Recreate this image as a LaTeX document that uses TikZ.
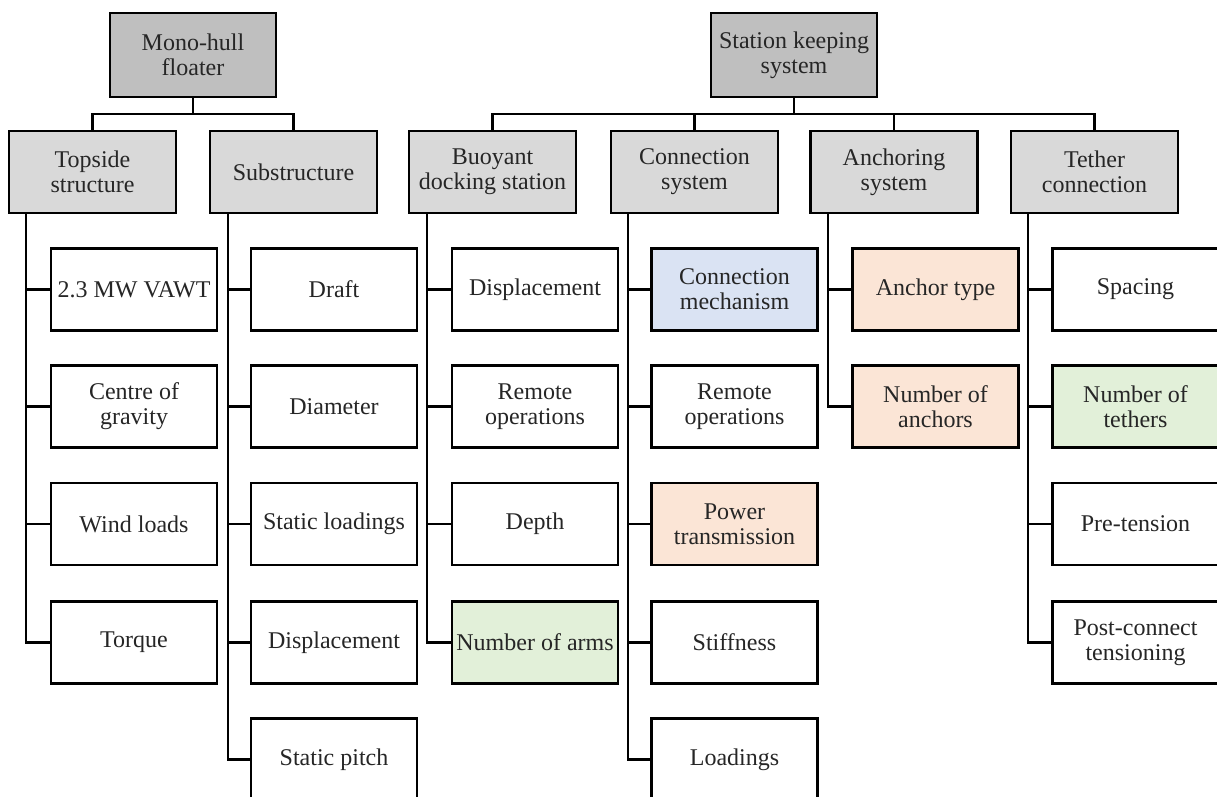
\documentclass[tikz,border=0pt]{standalone}
\usepackage{fontspec}
\setmainfont{Liberation Serif}
\definecolor{topgray}{HTML}{BFBFBF}
\definecolor{midgray}{HTML}{D9D9D9}
\definecolor{lblue}{HTML}{DAE3F3}
\definecolor{lorange}{HTML}{FBE5D6}
\definecolor{lgreen}{HTML}{E2F0D9}
\tikzset{
  box/.style={draw=black, line width=1.6pt, rectangle, align=center, inner sep=1pt,
    font=\fontsize{18}{18.75}\selectfont, text=black!85},
  topbox/.style={box, fill=topgray, minimum width=124.5pt, minimum height=63pt},
  midbox/.style={box, fill=midgray, minimum width=125.25pt, minimum height=61.5pt},
  leafbox/.style={box, fill=white, minimum width=124.5pt, minimum height=61.5pt},
  bluebox/.style={leafbox, fill=lblue},
  orangebox/.style={leafbox, fill=lorange},
  greenbox/.style={leafbox, fill=lgreen},
  conn/.style={draw=black, line width=1.6pt}
}
\begin{document}
\begin{tikzpicture}[x=0.75pt, y=-0.75pt]
\useasboundingbox (0,0) rectangle (1217,796);
\clip (0,0) rectangle (1217,796);
\fill[white] (0,0) rectangle (1217,796);
% top level
\node[topbox] (mono) at (193,55) {Mono-hull\\floater};
\node[topbox] (station) at (794,55) {Station keeping\\system};
% level 2
\node[midbox] (top) at (92.5,172) {Topside\\structure};
\node[midbox] (sub) at (293.5,172) {Substructure};
\node[midbox] (buoy) at (492.5,172) {Buoyant\\docking station};
\node[midbox] (con) at (694.5,172) {Connection\\system};
\node[midbox] (anc) at (894,172) {Anchoring\\system};
\node[midbox] (teth) at (1094.5,172) {Tether\\connection};
% bus coordinates
\coordinate (b1) at (193,114);
\coordinate (b2) at (794,114);
\draw[conn] (mono.south) -- (b1);
\draw[conn] (top.north) |- (b1) -| (sub.north);
\draw[conn] (station.south) -- (b2);
\draw[conn] (buoy.north) |- (b2) -| (teth.north);
\draw[conn] (con.north) -- (con.north |- b2);
\draw[conn] (anc.north) -- (anc.north |- b2);
% leaves: topside
\node[leafbox] (t1) at (134,289.5) {2.3 MW VAWT};
\node[leafbox] (t2) at (134,406.5) {Centre of\\gravity};
\node[leafbox] (t3) at (134,524) {Wind loads};
\node[leafbox] (t4) at (134,642.5) {Torque};
% substructure
\node[leafbox] (s1) at (334,289.5) {Draft};
\node[leafbox] (s2) at (334,406.5) {Diameter};
\node[leafbox] (s3) at (334,524) {Static loadings};
\node[leafbox] (s4) at (334,642.5) {Displacement};
\node[leafbox] (s5) at (334,759.5) {Static pitch};
% buoyant
\node[leafbox] (d1) at (535,289.5) {Displacement};
\node[leafbox] (d2) at (535,406.5) {Remote\\operations};
\node[leafbox] (d3) at (535,524) {Depth};
\node[greenbox] (d4) at (535,642.5) {Number of arms};
% connection
\node[bluebox] (c1) at (734.5,289.5) {Connection\\mechanism};
\node[leafbox] (c2) at (734.5,406.5) {Remote\\operations};
\node[orangebox] (c3) at (734.5,524) {Power\\transmission};
\node[leafbox] (c4) at (734.5,642.5) {Stiffness};
\node[leafbox] (c5) at (734.5,759.5) {Loadings};
% anchoring
\node[orangebox] (a1) at (935.5,289.5) {Anchor type};
\node[orangebox] (a2) at (935.5,406.5) {Number of\\anchors};
% tether
\node[leafbox] (e1) at (1135.5,289.5) {Spacing};
\node[greenbox] (e2) at (1135.5,406.5) {Number of\\tethers};
\node[leafbox] (e3) at (1135.5,524) {Pre-tension};
\node[leafbox] (e4) at (1135.5,642.5) {Post-connect\\tensioning};
% spines
\coordinate (xT) at (26,0);
\coordinate (xS) at (228,0);
\coordinate (xD) at (427,0);
\coordinate (xC) at (628,0);
\coordinate (xA) at (828,0);
\coordinate (xE) at (1028,0);
\draw[conn] (top.south -| xT) |- (t4.west);
\foreach \n in {t1,t2,t3} \draw[conn] (\n.west -| xT) -- (\n.west);
\draw[conn] (sub.south -| xS) |- (s5.west);
\foreach \n in {s1,s2,s3,s4} \draw[conn] (\n.west -| xS) -- (\n.west);
\draw[conn] (buoy.south -| xD) |- (d4.west);
\foreach \n in {d1,d2,d3} \draw[conn] (\n.west -| xD) -- (\n.west);
\draw[conn] (con.south -| xC) |- (c5.west);
\foreach \n in {c1,c2,c3,c4} \draw[conn] (\n.west -| xC) -- (\n.west);
\draw[conn] (anc.south -| xA) |- (a2.west);
\draw[conn] (a1.west -| xA) -- (a1.west);
\draw[conn] (teth.south -| xE) |- (e4.west);
\foreach \n in {e1,e2,e3} \draw[conn] (\n.west -| xE) -- (\n.west);
\end{tikzpicture}
\end{document}
